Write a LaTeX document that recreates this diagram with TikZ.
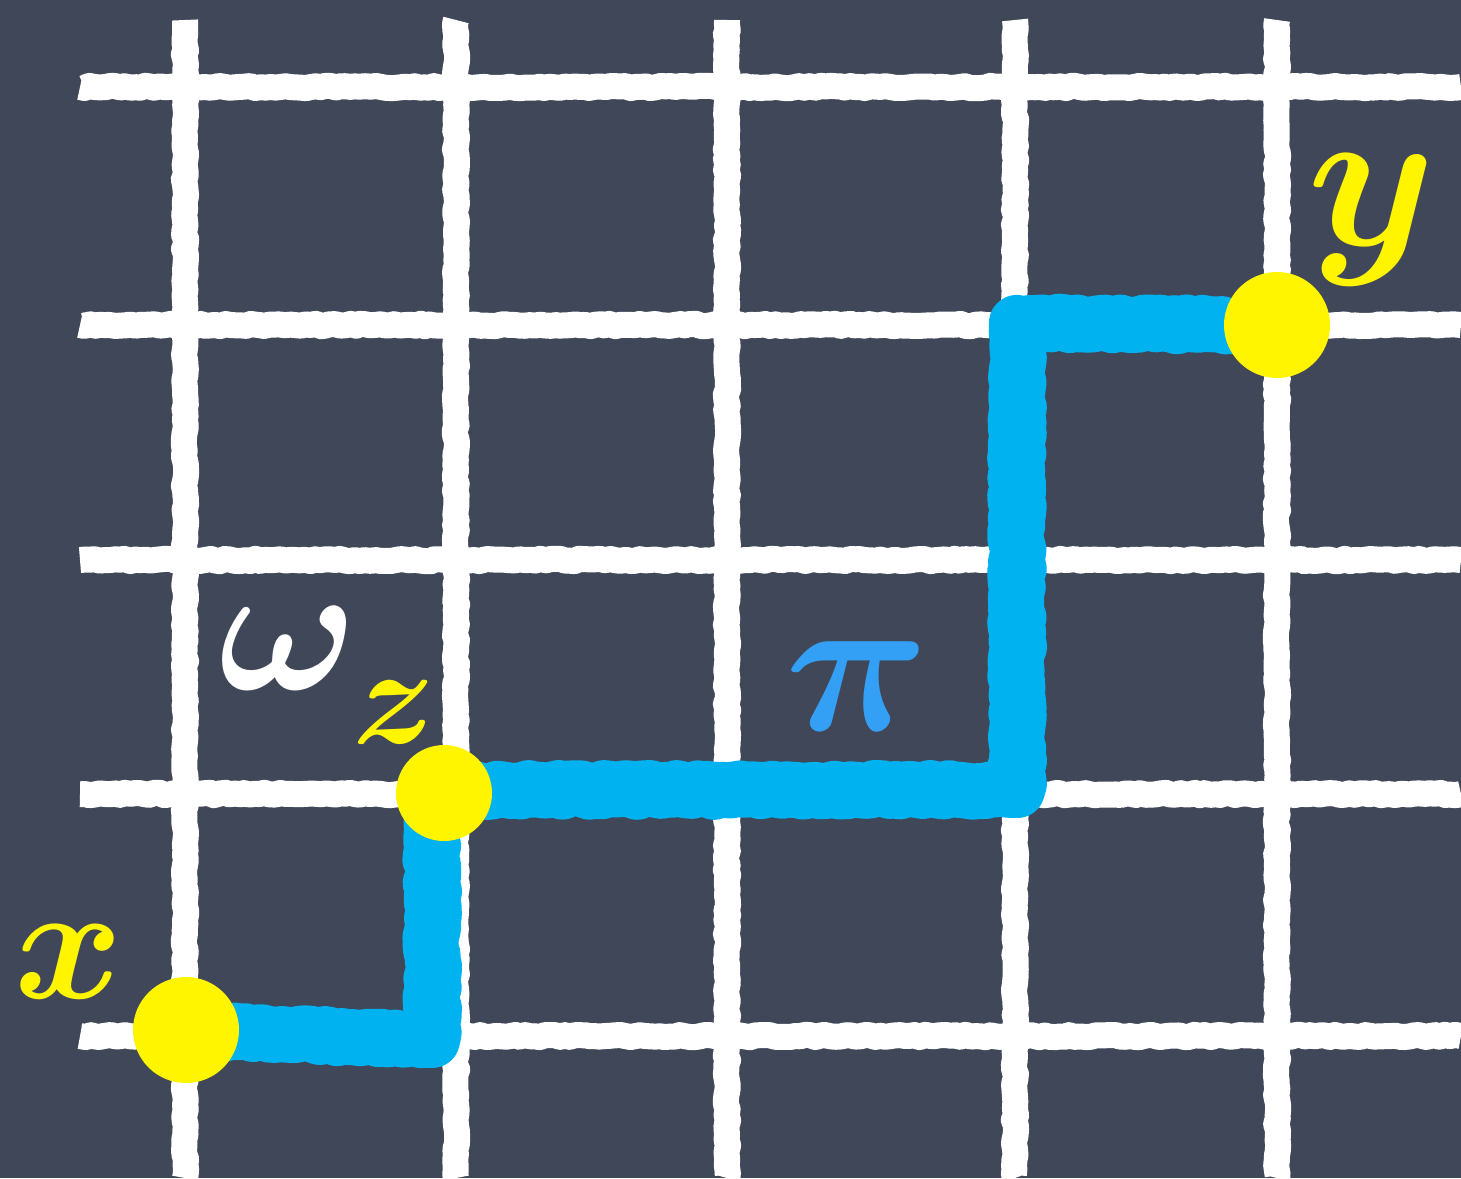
\documentclass[tikz,border=0pt]{standalone}
\usepackage{fix-cm}
\usetikzlibrary{decorations.pathmorphing}
\definecolor{board}{RGB}{64,71,89}
\definecolor{chalkblue}{RGB}{0,178,240}
\definecolor{piblue}{RGB}{52,160,245}
\definecolor{chalkyellow}{RGB}{255,245,0}
\tikzset{
  gridline/.style={white, line width=26pt, line join=round,
    decorate, decoration={random steps, segment length=5pt, amplitude=1.2pt}},
  pathline/.style={chalkblue, line width=56pt, line join=round,
    decorate, decoration={random steps, segment length=6pt, amplitude=2pt}},
  dot/.style={circle, fill=chalkyellow, inner sep=0pt, minimum size=#1},
  lbl/.style={inner sep=0pt, font=\boldmath},
}
\begin{document}
\begin{tikzpicture}[x=1pt,y=-1pt]
\fill[board] (0,0) rectangle (1461,1178);
\useasboundingbox (0,0) rectangle (1461,1178);
% grid
\foreach \yy in {87,325,560,794,1036} {
  \draw[gridline] (80,\yy) -- (1461,\yy);
}
\foreach \xx in {185,456,727,1015,1277} {
  \draw[gridline] (\xx,20) -- (\xx,1178);
}
% points
\coordinate (px) at (186,1030);
\coordinate (pz) at (444,793);
\coordinate (py) at (1277,325);
\coordinate (c1) at (432,1040);
\coordinate (c2) at (432,790);
\coordinate (c3) at (1017,790);
\coordinate (c4) at (1017,323);
% path pi
\draw[pathline] (px) -- (c1) -- (c2) -- (c3) -- (c4) -- (py);
\node[dot=106pt] (x) at (px) {};
\node[dot=96pt] (z) at (pz) {};
\node[dot=106pt] (y) at (py) {};
% labels
\node[lbl, text=chalkyellow] (xlbl) at (69,962) {\fontsize{165}{165}\selectfont $x$};
\node[lbl, text=chalkyellow] (ylbl) at (1372,220) {\fontsize{205}{205}\selectfont $y$};
\node[lbl, text=white] (omega) at (288,648) {\fontsize{185}{185}\selectfont $\omega$};
\node[lbl, text=chalkyellow] (zlbl) at (394,712) {\fontsize{140}{140}\selectfont $z$};
\node[lbl, text=piblue] (pilbl) at (857,686) {\fontsize{200}{200}\selectfont $\pi$};
\end{tikzpicture}
\end{document}
